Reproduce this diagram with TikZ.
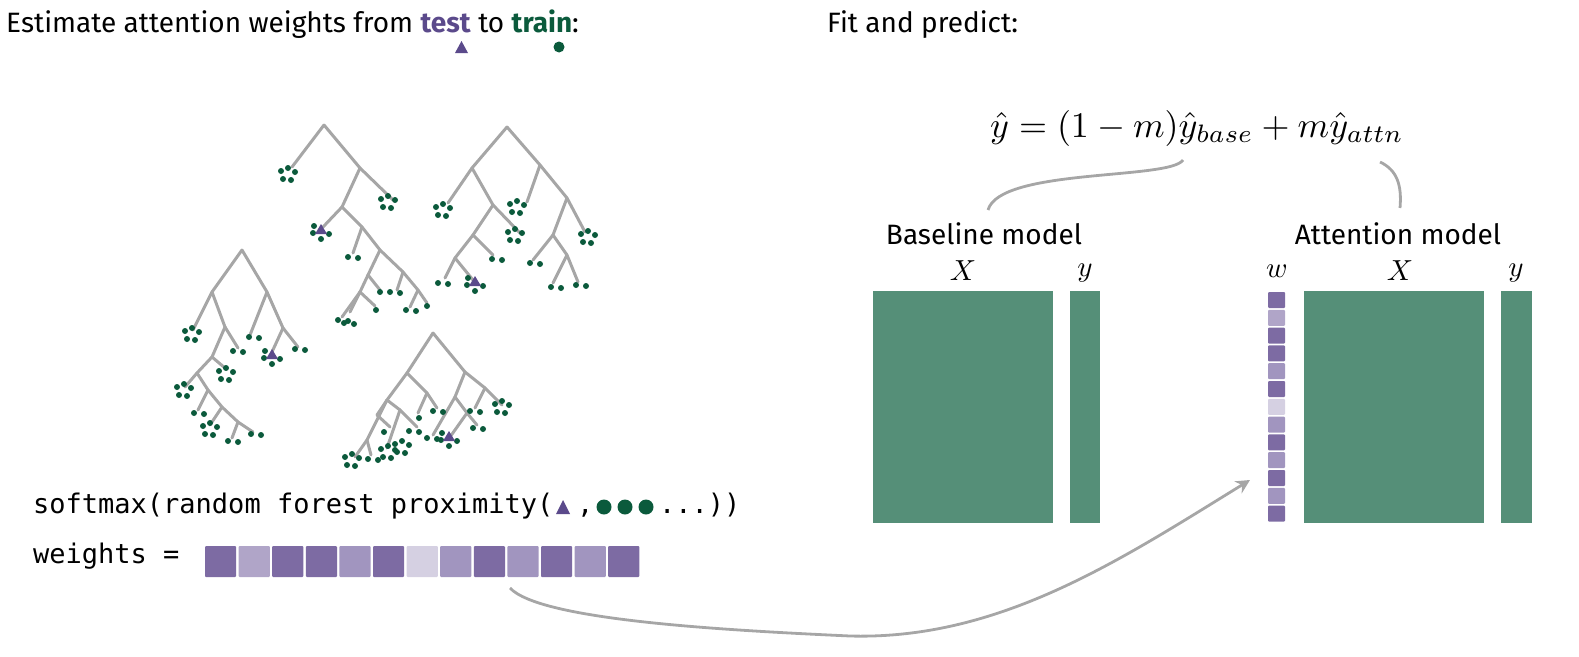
\documentclass[tikz,border=0pt]{standalone}
\usepackage{fontspec}
\setmainfont{Fira Sans}
\setmonofont{DejaVu Sans Mono}
\usetikzlibrary{arrows.meta}
\definecolor{grn}{HTML}{0B5A3C}
\definecolor{prp}{HTML}{5B4A8B}
\definecolor{blk}{HTML}{558F78}
\definecolor{wD}{HTML}{7D6BA3}
\definecolor{wL}{HTML}{B0A5C8}
\definecolor{wM}{HTML}{A195BF}
\definecolor{wV}{HTML}{D5D0E2}
\definecolor{br}{HTML}{A6A6A6}
\begin{document}
\begin{tikzpicture}[x=1pt,y=-1pt,
  branch/.style={draw=br,line width=3pt,line cap=round},
  txt/.style={inner sep=0,font=\fontsize{28}{32}\selectfont},
  mth/.style={inner sep=0,scale=2.9},
  mono/.style={inner sep=0,font=\ttfamily\fontsize{27}{30}\selectfont},
  gblock/.style={fill=blk,draw=none},
  conn/.style={draw=br,line width=2.8pt}]
\useasboundingbox (0,0) rectangle (1579,656);
\newcommand{\dt}[2]{\fill[grn] (#1,#2) circle (3);}
\newcommand{\cl}[2]{\dt{#1-7}{#2-3}\dt{#1}{#2-6}\dt{#1+7}{#2-2}\dt{#1-5}{#2+5}\dt{#1+3}{#2+6}}
\newcommand{\pr}[2]{\dt{#1-5}{#2}\dt{#1+5}{#2+1}}
\newcommand{\tri}[2]{\fill[prp] (#1-6,#2+4) -- (#1+6,#2+4) -- (#1,#2-6) -- cycle;}
\newcommand{\tcl}[2]{\dt{#1-8}{#2+3}\dt{#1+8}{#2+4}\dt{#1}{#2+9}\dt{#1-7}{#2-4}\tri{#1}{#2}}
% titles
\node[txt,anchor=base west] (t1) at (6,32) {Estimate attention weights from \textcolor{prp}{\textbf{test}} to \textcolor{grn}{\textbf{train}}:};
\fill[prp] (455,53) -- (468,53) -- (461.5,41) -- cycle;
\fill[grn] (559,47) circle (5.5);
\node[txt,anchor=base west] (t2) at (827,32) {Fit and predict:};
% tree 1
\foreach \a/\b/\c/\d in {324/125/292/167, 324/125/360/168, 360/168/393/200, 360/168/342/207, 342/207/323/227, 342/207/362/227, 362/227/353/253, 362/227/380/250, 380/250/368/275, 380/250/403/272, 368/275/360/292, 368/275/380/290, 360/292/342/317, 360/292/350/312, 360/292/375/306, 403/272/397/290, 403/272/418/290, 418/290/410/307, 418/290/427/303}
  \draw[branch] (\a,\b) -- (\c,\d);
\cl{288}{174}\cl{388}{202}\tcl{321}{230}\pr{353}{257}\dt{380}{292}\pr{343}{320}\pr{349}{323}\dt{376}{310}\pr{395}{292}\pr{411}{310}\dt{427}{306}
% tree 2
\foreach \a/\b/\c/\d in {507/127/472/168, 507/127/540/165, 472/168/448/203, 472/168/493/205, 493/205/473/235, 493/205/520/233, 473/235/455/258, 473/235/493/255, 455/258/445/278, 455/258/473/280, 540/165/527/202, 540/165/567/198, 567/198/553/235, 567/198/585/232, 553/235/533/260, 553/235/567/255, 567/255/553/283, 567/255/578/282}
  \draw[branch] (\a,\b) -- (\c,\d);
\cl{443}{210}\cl{517}{207}\cl{515}{235}\pr{497}{259}\pr{443}{283}\tcl{475}{282}\cl{588}{237}\pr{535}{263}\pr{556}{287}\pr{581}{285}
% tree 3
\foreach \a/\b/\c/\d in {242/250/212/292, 242/250/267/292, 212/292/193/330, 212/292/225/327, 225/327/212/357, 225/327/238/348, 212/357/197/373, 212/357/225/368, 197/373/185/387, 197/373/208/390, 208/390/198/410, 208/390/222/407, 222/407/210/425, 222/407/238/422, 238/422/232/438, 238/422/253/432, 267/292/250/335, 267/292/283/328, 283/328/272/352, 283/328/298/347}
  \draw[branch] (\a,\b) -- (\c,\d);
\cl{192}{334}\pr{238}{351}\cl{226}{374}\cl{184}{390}\pr{199}{413}\cl{210}{429}\pr{233}{441}\pr{256}{434}\pr{254}{337}\tcl{272}{355}\pr{300}{349}
% tree 4
\foreach \a/\b/\c/\d in {433/333/407/373, 433/333/465/372, 407/373/387/400, 407/373/427/393, 387/400/367/440, 387/400/400/410, 367/440/355/457, 367/440/371/455, 387/400/377/415, 377/415/390/427, 400/410/387/448, 400/410/417/427, 427/393/418/413, 427/393/437/408, 465/372/455/397, 465/372/485/388, 455/397/433/435, 455/397/467/413, 467/413/450/437, 467/413/477/425, 485/388/475/408, 485/388/502/405}
  \draw[branch] (\a,\b) -- (\c,\d);
\cl{352}{460}\pr{373}{459}\dt{384}{432}\cl{388}{452}\cl{402}{447}\pr{414}{431}\dt{419}{418}\pr{438}{411}\pr{432}{438}\tcl{449}{437}\pr{478}{428}\pr{475}{411}\cl{502}{407}
% formula lines
\node[mono,anchor=base west] (sm) at (33,513) {softmax(random forest proximity(};
\fill[prp] (556,514) -- (570,514) -- (563,500) -- cycle;
\node[mono,anchor=base west] (cm) at (577,513) {,};
\fill[grn] (604,507) circle (7.5);\fill[grn] (625,507) circle (7.5);\fill[grn] (646,507) circle (7.5);
\node[mono,anchor=base west] (dd) at (659,513) {...))};
\node[mono,anchor=base west] (wt) at (33,563) {weights =};
\foreach \c [count=\i from 0] in {wD,wL,wD,wD,wM,wD,wV,wM,wD,wM,wD,wM,wD}
  \fill[\c,rounded corners=1pt] (205+\i*33.6,546) rectangle ++(31.2,31);
\coordinate (src) at (510,588);
% right panel
\node[inner sep=0,scale=3.6] (eq) at (1197,128) {$\hat{y}=(1-m)\hat{y}_{base}+m\hat{y}_{attn}$};
\node[txt] (bm) at (984,234) {Baseline model};
\node[txt] (am) at (1398,234) {Attention model};
\draw[conn] (1183,160) .. controls (1170,180) and (1000,168) .. (988,210);
\draw[conn] (1380,162) .. controls (1397,170) and (1402,185) .. (1400,208);
\node[mth] (x1) at (963,271) {$X$};
\node[mth] (y1) at (1085,273) {$y$};
\node[mth] (w2) at (1277,271) {$w$};
\node[mth] (x2) at (1400,271) {$X$};
\node[mth] (y2) at (1516,273) {$y$};
\fill[gblock] (873,291) rectangle (1053,523);
\fill[gblock] (1070,291) rectangle (1100,523);
\fill[gblock] (1304,291) rectangle (1484,523);
\fill[gblock] (1501,291) rectangle (1532,523);
\foreach \c [count=\i from 0] in {wD,wL,wD,wD,wM,wD,wV,wM,wD,wM,wD,wM,wD}
  \fill[\c,rounded corners=1pt] (1268,292+\i*17.8) rectangle ++(17,16);
\coordinate (dst) at (1250,480);
\draw[conn,-{Stealth[length=14pt,width=14pt]}] (src) .. controls (540,620) and (720,630) .. (850,636) .. controls (1000,640) and (1120,560) .. (dst);
\end{tikzpicture}
\end{document}
